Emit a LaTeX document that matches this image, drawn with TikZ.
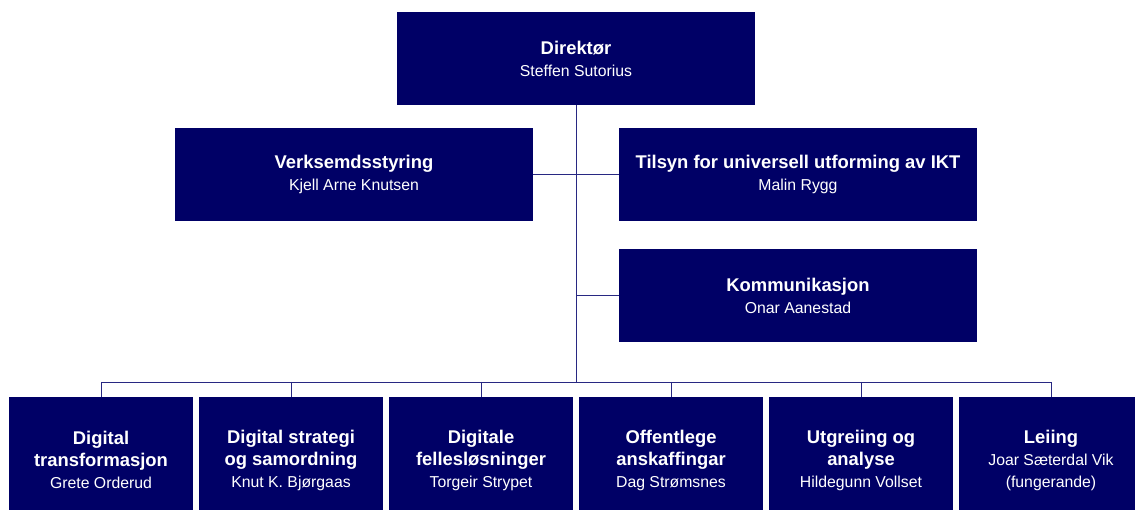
\documentclass[tikz,border=0pt]{standalone}
\usepackage{fontspec}
\setmainfont{Liberation Sans}
\usepackage{xcolor}
\definecolor{unitblue}{RGB}{0,0,102}
\definecolor{lineblue}{RGB}{40,40,130}
\newcommand{\unitname}[1]{{\fontsize{15.8}{21}\selectfont\mdseries #1}}

\begin{document}
\begin{tikzpicture}[x=1pt, y=-1pt]
    \tikzstyle{unit} = [rectangle, fill=unitblue, text=white, inner sep=0pt, minimum width=358pt, minimum height=93pt, align=center, font=\fontsize{18.4}{22}\selectfont\bfseries]
    \tikzstyle{dept} = [unit, minimum width=184pt, minimum height=126pt]
    \tikzstyle{link} = [draw=lineblue, line width=0.9pt]

    \useasboundingbox (0,0) rectangle (1135,510);
    \clip (0,0) rectangle (1135,510);

    % Top level
    \node [unit] (direktor) at (576,58.5) {Direktør\\\unitname{Steffen Sutorius}};

    % Staff units
    \node [unit] (verksemd) at (354,174.5) {Verksemdsstyring\\\unitname{Kjell Arne Knutsen}};
    \node [unit] (tilsyn) at (798,174.5) {Tilsyn for universell utforming av IKT\\\unitname{Malin Rygg}};
    \node [unit] (kommunikasjon) at (798,295.5) {Kommunikasjon\\\unitname{Onar Aanestad}};

    % Departments
    \node [dept] (digtrans) at (101,460) {Digital\\transformasjon\\\unitname{Grete Orderud}};
    \node [dept] (digstrat) at (291,460) {Digital strategi\\og samordning\\\unitname{Knut K. Bjørgaas}};
    \node [dept] (fellesl) at (481,460) {Digitale\\fellesløsninger\\\unitname{Torgeir Strypet}};
    \node [dept] (anskaff) at (671,460) {Offentlege\\anskaffingar\\\unitname{Dag Strømsnes}};
    \node [dept] (utgreiing) at (861,460) {Utgreiing og\\analyse\\\unitname{Hildegunn Vollset}};
    \node [dept] (leiing) at (1051,460) {Leiing\\\unitname{Joar Sæterdal Vik}\\\unitname{(fungerande)}};

    \coordinate (bus) at (576,382);

    % Lines
    \draw [link] (direktor.south) -- (bus);
    \draw [link] (verksemd.east) -- (tilsyn.west);
    \draw [link] (kommunikasjon.west) -- (kommunikasjon.west -| bus);
    \draw [link] (digtrans.north |- bus) -- (digtrans.north);
    \draw [link] (digtrans.north |- bus) -- (leiing.north |- bus) -- (leiing.north);
    \draw [link] (digstrat.north |- bus) -- (digstrat.north);
    \draw [link] (fellesl.north |- bus) -- (fellesl.north);
    \draw [link] (anskaff.north |- bus) -- (anskaff.north);
    \draw [link] (utgreiing.north |- bus) -- (utgreiing.north);
\end{tikzpicture}
\end{document}
